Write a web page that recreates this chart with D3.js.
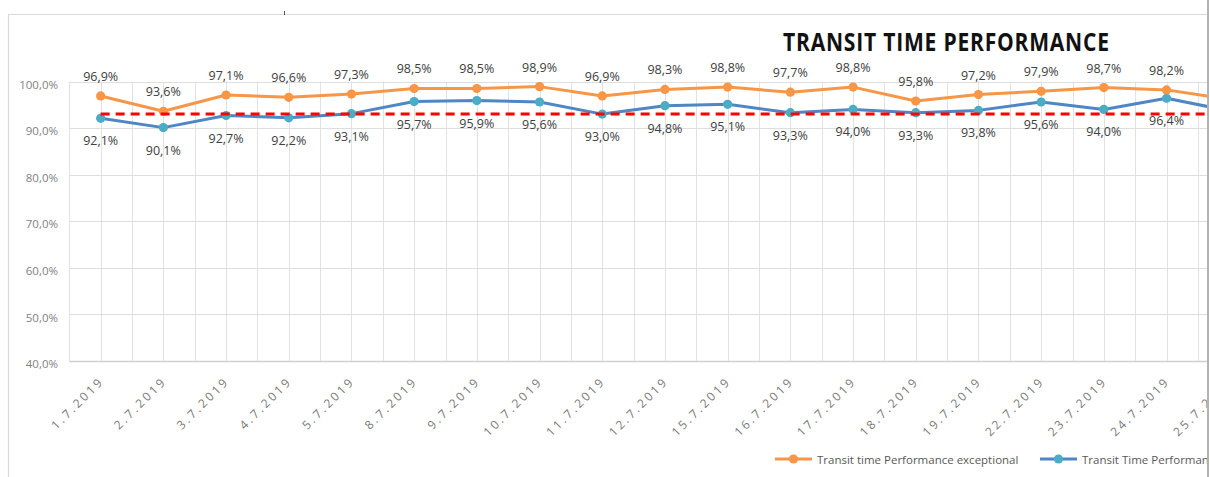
<!DOCTYPE html>
<html>
<head>
<meta charset="utf-8">
<script src="https://cdn.jsdelivr.net/npm/d3@7"></script>
<style>
  html, body { margin: 0; padding: 0; background: #ffffff; overflow: hidden; }
  svg { display: block; }
</style>
</head>
<body>
<svg id="chart" width="1210" height="477"></svg>
<script>
const categories = ["1.7.2019","2.7.2019","3.7.2019","4.7.2019","5.7.2019","8.7.2019","9.7.2019","10.7.2019","11.7.2019","12.7.2019","15.7.2019","16.7.2019","17.7.2019","18.7.2019","19.7.2019","22.7.2019","23.7.2019","24.7.2019","25.7.2019"];
const exceptional = [96.9,93.6,97.1,96.6,97.3,98.5,98.5,98.9,96.9,98.3,98.8,97.7,98.8,95.8,97.2,97.9,98.7,98.2,96.2];
const performance = [92.1,90.1,92.7,92.2,93.1,95.7,95.9,95.6,93.0,94.8,95.1,93.3,94.0,93.3,93.8,95.6,94.0,96.4,93.7];
const target = [93,93,93,93,93,93,93,93,93,93,93,93,93,93,93,93,93,93,93];
const yTicks = [40,50,60,70,80,90,100];
const yTickLabels = ["40,0%","50,0%","60,0%","70,0%","80,0%","90,0%","100,0%"];
const titleText = "TRANSIT TIME PERFORMANCE";
const seriesNames = ["Transit time Performance exceptional","Transit Time Performance"];

const svg = d3.select("#chart");
const W = 1210, H = 477, CLIPX = 1207;
const FONT = "'Open Sans', 'DejaVu Sans', sans-serif";

const plotLeft = 69.3, band = 62.7;
const x = d3.scaleBand().domain(categories).range([plotLeft, plotLeft + band * categories.length]).padding(0);
const y = d3.scaleLinear().domain([40, 100]).range([361, 81.5]);
const cx = c => x(c) + x.bandwidth() / 2;
const fmt = v => d3.format(".1f")(v).replace(".", ",") + "%";

svg.append("defs").append("clipPath").attr("id", "clip")
  .append("rect").attr("x", 0).attr("y", 0).attr("width", CLIPX).attr("height", H);

const root = svg.append("g").attr("clip-path", "url(#clip)");

// outer chart border (top/left)
root.append("path").attr("d", `M8.5,${H} V14.5 H1208`).attr("fill", "none").attr("stroke", "#d9d9d9").attr("stroke-width", 1.2);
svg.append("line").attr("x1", 284.5).attr("x2", 284.5).attr("y1", 11).attr("y2", 15).attr("stroke", "#555").attr("stroke-width", 1);

// horizontal gridlines
root.append("g").selectAll("line").data(yTicks).join("line")
  .attr("x1", plotLeft).attr("x2", x.range()[1])
  .attr("y1", d => Math.round(y(d)) + 0.5).attr("y2", d => Math.round(y(d)) + 0.5)
  .attr("stroke", d => d === 40 ? "#d0d0d0" : "#dedede")
  .attr("stroke-width", d => d === 40 ? 1.6 : 1);

// vertical gridlines at band edges and centers
const vlines = [];
categories.forEach(c => { vlines.push(x(c)); vlines.push(cx(c)); });
vlines.push(x.range()[1]);
root.append("g").selectAll("line").data(vlines).join("line")
  .attr("x1", d => Math.round(d) + 0.5).attr("x2", d => Math.round(d) + 0.5)
  .attr("y1", y(100)).attr("y2", y(40))
  .attr("stroke", "#e2e2e2").attr("stroke-width", 1);

// y axis
const yAxis = d3.axisLeft(y).tickValues(yTicks).tickSize(0).tickPadding(0)
  .tickFormat((d, i) => yTickLabels[i]);
const gy = root.append("g").attr("transform", "translate(58,3)").call(yAxis);
gy.select(".domain").remove();
gy.selectAll("text").attr("font-family", FONT).attr("font-size", 11.5).attr("fill", "#7f7f7f");

// x axis
const xAxis = d3.axisBottom(x).tickSize(0).tickPadding(0);
const gx = root.append("g").call(xAxis);
gx.select(".domain").remove();
gx.selectAll(".tick").attr("transform", d => `translate(${cx(d) + 4},382)`);
gx.selectAll("text")
  .attr("font-family", FONT).attr("font-size", 12).attr("fill", "#7a7a7a")
  .attr("letter-spacing", "2.6px")
  .attr("text-anchor", "end").attr("dy", 0).attr("y", 0).attr("x", 0)
  .attr("transform", "rotate(-45)");

const orange = "#f79646", blueLine = "#4f86c6", blueDot = "#4bacc6";
const line = d3.line().x((d, i) => cx(categories[i])).y(d => y(d));

// series
root.append("path").datum(performance).attr("d", line).attr("fill", "none")
  .attr("stroke", blueLine).attr("stroke-width", 3).attr("stroke-linejoin", "round");
root.append("g").selectAll("circle").data(performance).join("circle")
  .attr("cx", (d, i) => cx(categories[i])).attr("cy", d => y(d)).attr("r", 4.6).attr("fill", blueDot);

root.append("path").datum(exceptional).attr("d", line).attr("fill", "none")
  .attr("stroke", orange).attr("stroke-width", 3).attr("stroke-linejoin", "round");
root.append("g").selectAll("circle").data(exceptional).join("circle")
  .attr("cx", (d, i) => cx(categories[i])).attr("cy", d => y(d)).attr("r", 4.6).attr("fill", orange);

// target dashed line
root.append("path").datum(target).attr("d", line).attr("fill", "none")
  .attr("stroke", "#ff0000").attr("stroke-width", 3).attr("stroke-dasharray", "9,6");

// data labels (only for points inside the visible frame)
const visible = (d, i) => cx(categories[i]) + 18 < CLIPX;
const exLab = exceptional.map((v, i) => ({v, i})).filter(d => visible(d.v, d.i));
const pfLab = performance.map((v, i) => ({v, i})).filter(d => visible(d.v, d.i));
root.append("g").selectAll("text").data(exLab).join("text")
  .attr("x", d => cx(categories[d.i])).attr("y", d => y(d.v) - 15)
  .attr("text-anchor", "middle").attr("font-family", FONT).attr("font-size", 12.5)
  .attr("fill", "#404040").text(d => fmt(d.v));
root.append("g").selectAll("text").data(pfLab).join("text")
  .attr("x", d => cx(categories[d.i])).attr("y", d => y(d.v) + 27)
  .attr("text-anchor", "middle").attr("font-family", FONT).attr("font-size", 12.5)
  .attr("fill", "#404040").text(d => fmt(d.v));

// title
root.append("text").attr("transform", "translate(783,51) scale(0.86,1)")
  .attr("font-family", FONT).attr("font-weight", "bold").attr("font-size", 24.5)
  .attr("fill", "#111").attr("textLength", 326 / 0.86).attr("lengthAdjust", "spacing")
  .text(titleText);

// legend
const legend = [
  {name: seriesNames[0], lc: orange, dc: orange, x: 775},
  {name: seriesNames[1], lc: blueLine, dc: blueDot, x: 1040}
];
const lg = root.append("g").selectAll("g").data(legend).join("g")
  .attr("transform", d => `translate(${d.x},459)`);
lg.append("line").attr("x1", 0).attr("x2", 37).attr("y1", 0).attr("y2", 0)
  .attr("stroke", d => d.lc).attr("stroke-width", 3);
lg.append("circle").attr("cx", 18.5).attr("cy", 0).attr("r", 4.6).attr("fill", d => d.dc);
lg.append("text").attr("x", 42).attr("y", 4.5)
  .attr("font-family", FONT).attr("font-size", 11.5).attr("fill", "#595959")
  .text(d => d.name);

// right edge line
svg.append("line").attr("x1", 1208).attr("x2", 1208).attr("y1", 0).attr("y2", H)
  .attr("stroke", "#9a9a9a").attr("stroke-width", 1.5);
</script>
</body>
</html>
